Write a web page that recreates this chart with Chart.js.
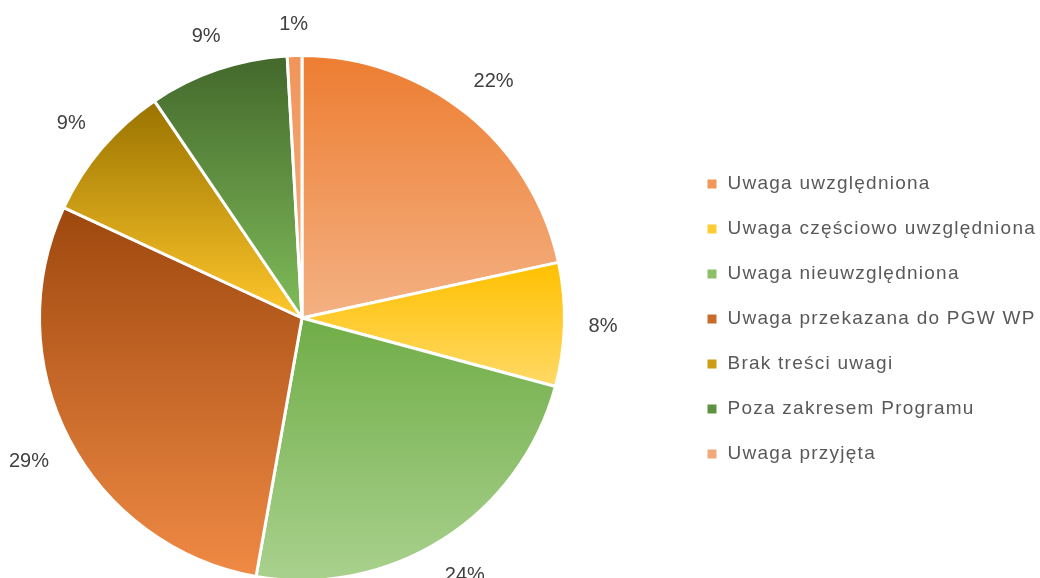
<!DOCTYPE html>
<html lang="pl">
<head>
  <meta charset="UTF-8">
  <title>Uwagi</title>
  <script src="https://cdn.jsdelivr.net/npm/chart.js"></script>
  <style>
    html, body { margin: 0; padding: 0; background: #fff; overflow: hidden; }
    #wrap { width: 1040px; height: 578px; }
  </style>
</head>
<body>
  <div id="wrap"><canvas id="pie" width="1040" height="578"></canvas></div>

  <script>
    // Data
    const categories = [
      'Uwaga uwzględniona',
      'Uwaga częściowo uwzględniona',
      'Uwaga nieuwzględniona',
      'Uwaga przekazana do PGW WP',
      'Brak treści uwagi',
      'Poza zakresem Programu',
      'Uwaga przyjęta'
    ];
    const shares = [21.6, 7.6, 23.6, 29.1, 8.6, 8.6, 0.9];

    // Colours (top / bottom of each slice gradient, legend swatch)
    const topColors    = ['#ED7D31', '#FFC000', '#70AD47', '#9E480E', '#997300', '#43682B', '#F0955A'];
    const bottomColors = ['#F4B183', '#FFD966', '#A9D18E', '#F08A45', '#FFC72B', '#80BC5A', '#F4B183'];
    const legendColors = ['#F0975A', '#FFCC33', '#8DBF6A', '#C76A2A', '#CC9D15', '#5E9242', '#F3A878'];

    // Pie box and legend placement
    const pieBox = { left: 38, top: 54, right: 566, bottom: 582 };
    const legendBox = { left: 680, top: 56, right: 1040, bottom: 582 };

    const placeBoxes = {
      id: 'placeBoxes',
      afterLayout(chart) {
        const a = chart.chartArea;
        Object.assign(a, pieBox);
        a.width = a.right - a.left;
        a.height = a.bottom - a.top;
        const lg = chart.legend;
        Object.assign(lg, legendBox);
        lg.width = lg.right - lg.left;
        lg.height = lg.bottom - lg.top;
      },
      beforeDraw(chart) {
        chart.ctx.letterSpacing = '1.25px';
      }
    };

    // vertical gradient over each slice's own height
    const sliceGradients = {
      id: 'sliceGradients',
      beforeDatasetsDraw(chart) {
        const ctx = chart.ctx;
        chart.getDatasetMeta(0).data.forEach((arc, i) => {
          let minY = arc.y, maxY = arc.y;
          for (let k = 0; k <= 80; k++) {
            const a = arc.startAngle + (arc.endAngle - arc.startAngle) * k / 80;
            const y = arc.y + arc.outerRadius * Math.sin(a);
            minY = Math.min(minY, y);
            maxY = Math.max(maxY, y);
          }
          const g = ctx.createLinearGradient(0, minY, 0, maxY);
          g.addColorStop(0, topColors[i]);
          g.addColorStop(1, bottomColors[i]);
          arc.options.backgroundColor = g;
        });
      }
    };

    // percentage labels outside the pie
    const outsideLabels = {
      id: 'outsideLabels',
      afterDatasetsDraw(chart) {
        const ctx = chart.ctx;
        const total = shares.reduce((s, v) => s + v, 0);
        ctx.save();
        ctx.letterSpacing = '0px';
        ctx.font = '20px "Liberation Sans"';
        ctx.fillStyle = '#404040';
        ctx.textAlign = 'center';
        ctx.textBaseline = 'middle';
        chart.getDatasetMeta(0).data.forEach((arc, i) => {
          const mid = (arc.startAngle + arc.endAngle) / 2;
          const txt = Math.round(shares[i] / total * 100) + '%';
          const w = ctx.measureText(txt).width, h = 16;
          const dx = Math.cos(mid), dy = Math.sin(mid);
          const d = arc.outerRadius + 24 + Math.abs(dx) * w / 2 + Math.abs(dy) * h / 2;
          ctx.fillText(txt, arc.x + dx * d, arc.y + dy * d + 1);
        });
        ctx.restore();
      }
    };

    new Chart(document.getElementById('pie'), {
      type: 'pie',
      data: {
        labels: categories,
        datasets: [{
          data: shares,
          backgroundColor: legendColors,
          borderColor: '#ffffff',
          borderWidth: 3
        }]
      },
      options: {
        responsive: false,
        animation: false,
        events: [],
        plugins: {
          legend: {
            position: 'right',
            labels: {
              boxWidth: 12,
              boxHeight: 12,
              padding: 26,
              color: '#595959',
              font: { family: 'Liberation Sans', size: 19 }
            }
          },
          tooltip: { enabled: false }
        }
      },
      plugins: [placeBoxes, sliceGradients, outsideLabels]
    });
  </script>
</body>
</html>
